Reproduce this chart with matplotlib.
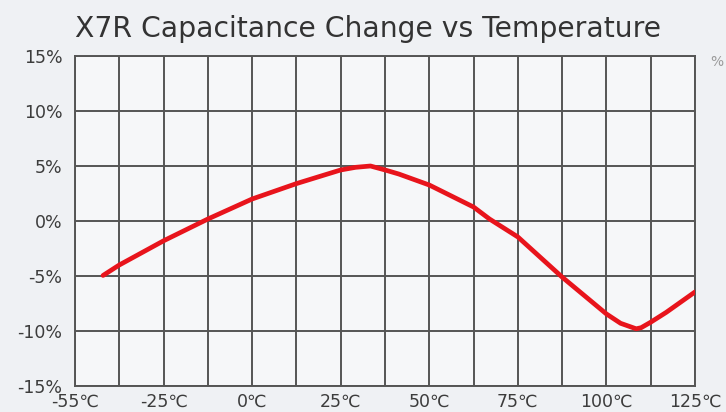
import numpy as np
import matplotlib
matplotlib.use("Agg")
import matplotlib.pyplot as plt
from matplotlib.ticker import FixedLocator, NullFormatter

# ---- data ----
tick_temps = [-55, -25, 0, 25, 50, 75, 100, 125]
tick_labels = ["-55℃", "-25℃", "0℃", "25℃", "50℃", "75℃", "100℃", "125℃"]
y_ticks = [15, 10, 5, 0, -5, -10, -15]
y_labels = ["15%", "10%", "5%", "0%", "-5%", "-10%", "-15%"]

temp = [-45.5, -40, -25, -12.5, 0, 12.5, 25, 29.2, 33.4, 37.5, 41.4, 50,
        62.5, 67, 75, 87.5, 100, 104, 108.4, 109.8, 112.5, 116.9, 125]
cap = [-4.95, -4.0, -1.8, 0.18, 2.0, 3.4, 4.64, 4.88, 5.0, 4.64, 4.27, 3.27,
       1.27, 0.18, -1.45, -5.1, -8.45, -9.3, -9.8, -9.7, -9.2, -8.3, -6.45]

title = "X7R Capacitance Change vs Temperature"

# ---- non-uniform temperature axis (two grid cells per label) ----
cell_pos = np.arange(0, 2 * len(tick_temps), 2, dtype=float)

def fwd(t):
    return np.interp(t, tick_temps, cell_pos)

def inv(p):
    return np.interp(p, cell_pos, tick_temps)

W, H = 726, 412
fig = plt.figure(figsize=(W / 100, H / 100), dpi=100)
bg = "#eff1f4"
fig.patch.set_facecolor(bg)
ax = fig.add_axes([75 / W, 1 - 386 / H, (695 - 75) / W, (386 - 56) / H])
ax.set_facecolor("#f6f7f9")

ax.set_xscale("function", functions=(fwd, inv))
ax.set_xlim(tick_temps[0], tick_temps[-1])
ax.set_ylim(-15, 15)

grid_c = "#555555"
ax.xaxis.set_major_locator(FixedLocator(tick_temps))
minor_t = inv(cell_pos[:-1] + 1)
ax.xaxis.set_minor_locator(FixedLocator(minor_t))
ax.xaxis.set_minor_formatter(NullFormatter())
ax.set_xticklabels(tick_labels)
ax.set_yticks(y_ticks)
ax.set_yticklabels(y_labels)

ax.grid(True, which="both", axis="x", color=grid_c, linewidth=1.4)
ax.grid(True, which="major", axis="y", color=grid_c, linewidth=1.4)
ax.set_axisbelow(True)
for s in ax.spines.values():
    s.set_color(grid_c)
    s.set_linewidth(1.4)

fam = ["DejaVu Sans"]
ax.tick_params(which="both", length=0)
ax.tick_params(axis="x", pad=5, labelsize=12.5, labelcolor="#3c3c3c")
ax.tick_params(axis="y", pad=9, labelsize=12.5, labelcolor="#3c3c3c")
for lab in ax.get_xticklabels() + ax.get_yticklabels():
    lab.set_family(fam)

ax.plot(temp, cap, color="#e8141c", linewidth=3.4, solid_capstyle="round",
        solid_joinstyle="round", zorder=3)

fig.text(75 / W, 1 - 29 / H, title, ha="left", va="center", fontsize=20.3,
         color="#333333", family=fam)
fig.text(710 / W, 1 - 62 / H, "%", ha="left", va="center", fontsize=10,
         color="#9a9a9a", family=fam)

fig.savefig("out.png", dpi=100, facecolor=bg)
